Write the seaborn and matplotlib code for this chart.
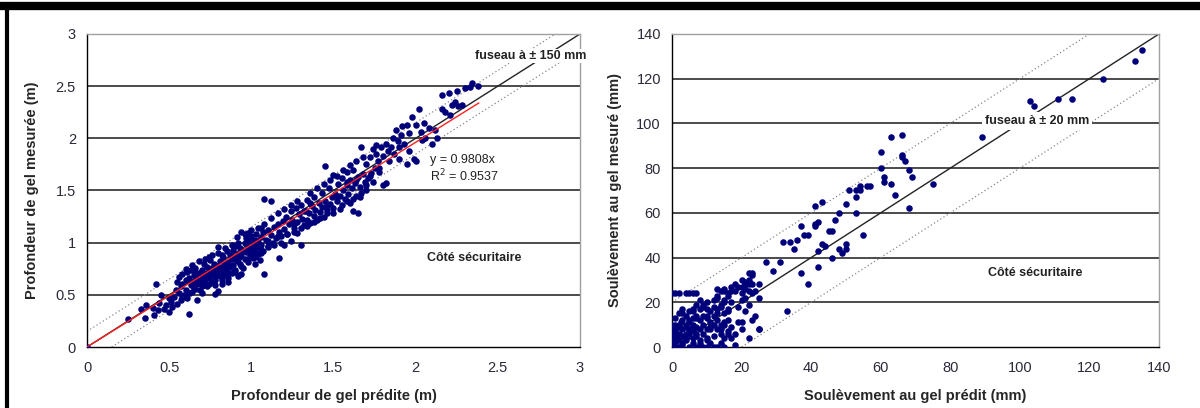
import matplotlib
matplotlib.use('Agg')
import matplotlib.pyplot as plt
import seaborn as sns
import pandas as pd
from matplotlib.lines import Line2D

# Profondeur de gel (m): predite / mesuree
pred_depth = [0.00, 0.25, 0.33, 0.35, 0.36, 0.40, 0.41, 0.42, 0.43, 0.44, 0.45, 0.47, 0.48, 0.50, 0.50, 0.51,
              0.52, 0.53, 0.54, 0.55, 0.55, 0.56, 0.56, 0.57, 0.57, 0.58, 0.58, 0.59, 0.60, 0.60, 0.61, 0.61,
              0.62, 0.62, 0.63, 0.63, 0.64, 0.64, 0.65, 0.65, 0.66, 0.66, 0.67, 0.67, 0.68, 0.68, 0.69, 0.69,
              0.70, 0.70, 0.71, 0.71, 0.72, 0.72, 0.73, 0.73, 0.74, 0.74, 0.75, 0.75, 0.76, 0.76, 0.77, 0.77,
              0.78, 0.78, 0.79, 0.79, 0.80, 0.80, 0.80, 0.81, 0.81, 0.82, 0.82, 0.83, 0.83, 0.84, 0.84, 0.85,
              0.85, 0.86, 0.86, 0.87, 0.87, 0.88, 0.88, 0.89, 0.89, 0.90, 0.90, 0.91, 0.91, 0.92, 0.92, 0.93,
              0.93, 0.94, 0.94, 0.95, 0.95, 0.96, 0.96, 0.97, 0.97, 0.98, 0.98, 0.99, 0.99, 1.00, 1.00, 1.01,
              1.01, 1.02, 1.02, 1.03, 1.03, 1.04, 1.04, 1.05, 1.05, 1.06, 1.06, 1.07, 1.07, 1.08, 1.08, 1.09,
              1.10, 1.10, 1.12, 1.12, 1.13, 1.14, 1.15, 1.16, 1.17, 1.17, 1.18, 1.19, 1.20, 1.20, 1.21, 1.22,
              1.23, 1.24, 1.24, 1.25, 1.26, 1.27, 1.28, 1.28, 1.29, 1.30, 1.30, 1.31, 1.32, 1.33, 1.34, 1.34,
              1.35, 1.36, 1.37, 1.38, 1.38, 1.39, 1.40, 1.41, 1.42, 1.43, 1.43, 1.44, 1.45, 1.45, 1.46, 1.47,
              1.48, 1.49, 1.50, 1.50, 1.51, 1.52, 1.53, 1.54, 1.55, 1.55, 1.56, 1.57, 1.58, 1.58, 1.59, 1.60,
              1.60, 1.61, 1.62, 1.62, 1.63, 1.64, 1.65, 1.65, 1.66, 1.67, 1.67, 1.68, 1.69, 1.70, 1.71, 1.72,
              1.73, 1.74, 1.75, 1.76, 1.77, 1.78, 1.79, 1.80, 1.80, 1.82, 1.82, 1.83, 1.85, 1.86, 1.87, 1.88,
              1.89, 1.90, 1.91, 1.92, 1.93, 1.95, 1.95, 1.96, 1.98, 1.99, 2.00, 2.00, 2.02, 2.03, 2.05, 2.06,
              2.08, 2.10, 2.13, 2.16, 2.16, 2.18, 2.20, 2.21, 2.22, 2.24, 2.25, 2.26, 2.28, 2.30, 2.33, 2.34,
              2.38,
              0.58, 0.60, 0.62, 0.64, 0.66, 0.68, 0.70, 0.72, 0.74, 0.76,
              0.78, 0.80, 0.82, 0.84, 0.86, 0.88, 0.90, 0.92, 0.94, 0.96,
              0.98, 1.00, 1.02, 1.04, 1.06, 1.08, 1.10, 1.12, 1.14, 1.16,
              1.18, 1.20, 1.22, 1.24, 1.26, 1.28, 1.30, 1.32, 1.34, 1.36,
              1.38, 1.40, 1.42, 1.44, 1.46, 1.48, 1.50, 1.52, 1.54, 1.56,
              1.58, 1.60, 1.62, 1.64, 1.66, 1.68, 1.70, 1.72, 1.74, 1.76,
              0.74, 0.78, 0.82, 0.86, 0.90, 0.94, 0.98, 1.02, 1.06, 1.10,
              0.66, 0.70, 0.76, 0.84, 0.92, 1.00, 1.16, 1.26, 1.36, 1.46,
              1.52, 1.58, 1.64, 1.70, 1.78, 1.84, 1.90, 1.96, 2.04, 2.12]
meas_depth = [0.00, 0.27, 0.36, 0.28, 0.40, 0.37, 0.31, 0.60, 0.35, 0.42, 0.50, 0.36, 0.40, 0.34, 0.47, 0.43,
              0.38, 0.48, 0.55, 0.41, 0.62, 0.52, 0.67, 0.58, 0.45, 0.70, 0.60, 0.50, 0.64, 0.55, 0.72, 0.47,
              0.32, 0.66, 0.59, 0.74, 0.62, 0.53, 0.69, 0.57, 0.76, 0.64, 0.45, 0.60, 0.71, 0.67, 0.55, 0.63,
              0.74, 0.68, 0.80, 0.61, 0.70, 0.65, 0.77, 0.58, 0.72, 0.66, 0.83, 0.69, 0.62, 0.76, 0.73, 0.80,
              0.51, 0.67, 0.78, 0.71, 0.96, 0.54, 0.74, 0.82, 0.68, 0.77, 0.64, 0.86, 0.72, 0.79, 0.69, 0.92,
              0.75, 0.81, 0.66, 0.88, 0.77, 0.71, 0.84, 0.93, 0.79, 0.86, 0.74, 1.05, 0.82, 0.89, 0.68, 0.95,
              0.80, 1.10, 0.87, 0.92, 0.76, 1.00, 0.84, 0.91, 1.04, 0.81, 0.96, 1.02, 0.88, 0.94, 1.06, 0.85,
              0.99, 1.03, 0.91, 0.96, 1.08, 0.89, 1.01, 0.95, 0.83, 1.05, 0.98, 1.10, 0.92, 1.42, 0.70, 1.03,
              1.12, 0.97, 1.40, 1.07, 1.00, 1.15, 1.04, 1.18, 0.85, 1.10, 1.06, 1.21, 1.13, 0.98, 1.25, 1.08,
              1.18, 1.30, 1.02, 1.22, 1.14, 1.33, 1.20, 1.09, 1.27, 0.98, 1.36, 1.23, 1.17, 1.30, 1.41, 1.22,
              1.28, 1.19, 1.35, 1.26, 1.44, 1.31, 1.22, 1.38, 1.29, 1.48, 1.34, 1.25, 1.73, 1.40, 1.31, 1.52,
              1.37, 1.44, 1.65, 1.33, 1.47, 1.40, 1.56, 1.45, 1.36, 1.62, 1.50, 1.42, 1.68, 1.55, 1.47, 1.60,
              1.38, 1.52, 1.30, 1.70, 1.57, 1.45, 1.28, 1.63, 1.53, 1.92, 1.48, 1.66, 1.58, 1.75, 1.62, 1.82,
              1.67, 1.90, 1.72, 1.85, 1.78, 1.68, 1.92, 1.55, 1.83, 1.57, 1.95, 1.88, 1.92, 2.00, 1.85, 2.08,
              1.97, 1.80, 2.03, 2.12, 1.95, 1.75, 2.13, 2.05, 2.20, 1.80, 2.13, 1.78, 2.28, 2.06, 2.15, 2.00,
              2.10, 1.95, 2.00, 2.28, 2.42, 2.25, 2.43, 2.22, 2.32, 2.35, 2.45, 2.31, 2.32, 2.48, 2.49, 2.53,
              2.50,
              0.48, 0.75, 0.52, 0.79, 0.56, 0.82, 0.58, 0.84, 0.60, 0.88,
              0.64, 0.90, 0.60, 0.95, 0.70, 0.98, 0.72, 1.00, 0.78, 1.08,
              0.84, 1.12, 0.86, 1.14, 0.90, 1.18, 0.96, 1.24, 0.98, 1.28,
              1.00, 1.32, 1.08, 1.36, 1.10, 1.40, 1.14, 1.30, 1.16, 1.48,
              1.20, 1.52, 1.24, 1.56, 1.28, 1.60, 1.28, 1.64, 1.32, 1.70,
              1.40, 1.74, 1.42, 1.78, 1.44, 1.82, 1.50, 1.64, 1.58, 1.94,
              0.86, 0.59, 0.88, 0.62, 0.97, 0.70, 1.09, 0.80, 1.14, 1.02,
              0.72, 0.52, 0.70, 0.80, 0.84, 0.90, 1.06, 1.18, 1.38, 1.36,
              1.45, 1.58, 1.60, 1.55, 1.72, 1.78, 1.92, 1.88, 1.98, 2.08]

# Soulevement au gel (mm): (predit, mesure)
heave_points = [
    (135, 133), (133, 128), (124, 120), (115, 111), (111, 111), (104, 108), (103, 110), (89, 94), (75, 73), (69, 76),
    (68, 79), (68, 62), (67, 83), (66, 86), (66, 85), (66, 95), (64, 68), (63, 94), (63, 73), (61, 76),
    (61, 74), (60, 87), (60, 80), (57, 72), (56, 72), (55, 50), (54, 72), (54, 70), (53, 70), (53, 67),
    (53, 60), (51, 70), (50, 64), (50, 46), (50, 44), (49, 42), (48, 60), (48, 44), (47, 57), (46, 52),
    (46, 40), (45, 52), (44, 45), (43, 46), (43, 65), (42, 56), (42, 43), (42, 36), (41, 63), (41, 55),
    (41, 54), (39, 50), (38, 50), (39, 28), (37, 54), (37, 33), (36, 48), (35, 44), (34, 47), (33, 16),
    (32, 47), (31, 38), (29, 34), (27, 38), (25, 28), (25, 22), (25, 8), (23, 33), (23, 32), (22, 33),
    (22, 30), (22, 25), (22, 4), (21, 28), (21, 22), (20, 30), (20, 27), (20, 21), (20, 11), (20, 8),
    (19, 27), (19, 18), (18, 25), (18, 1), (17, 20), (17, 27), (16, 23), (16, 16), (16, 6), (15, 10),
    (15, 20), (15, 26), (15, 0), (14, 18), (14, 25), (14, 2), (14, 8), (13, 22), (13, 15), (13, 12),
    (13, 0), (12, 18), (12, 10), (12, 5), (11, 16), (11, 8), (10, 14), (10, 20), (10, 3), (10, 0),
    (9, 10), (9, 18), (9, 6), (9, 0), (8, 12), (8, 17), (8, 8), (8, 2), (7, 13), (7, 6),
    (7, 19), (7, 24), (6, 9), (6, 16), (6, 24), (6, 4), (5, 11), (5, 24), (5, 7), (5, 0),
    (4, 14), (4, 24), (4, 5), (4, 9), (3, 8), (3, 12), (3, 15), (3, 2), (2, 24), (2, 6),
    (2, 10), (2, 0), (1, 24), (1, 13), (1, 4), (1, 8), (1, 0), (0, 24), (0, 10), (0, 5),
    (0, 2), (0, 0), (0.5, 7), (0.5, 1), (0, 1), (0, 3), (0, 6), (0, 8), (0.5, 4), (0.5, 9),
    (1, 2), (1, 5), (1, 7), (1, 10), (1.5, 3), (2, 4), (2, 9), (2, 15), (2.5, 11), (3, 1),
    (3, 5), (3, 17), (4, 3), (4, 6), (4, 10), (5, 5), (5, 8), (5, 12), (5, 16), (6, 2),
    (6, 7), (6, 10), (6, 13), (6, 17), (7, 0), (7, 5), (7, 9), (7, 14), (8, 0), (8, 3),
    (8, 21), (9, 14), (9, 19), (10, 4), (10, 8), (10, 13), (10, 17), (11, 2), (11, 9), (11, 11),
    (12, 0), (12, 14), (12, 21), (13, 8), (13, 17), (13, 23), (13, 26), (14, 6), (14, 10), (14, 19),
    (15, 4), (15, 11), (15, 15), (15, 21), (15, 25), (16, 7), (16, 12), (16, 17), (16, 24), (17, 4),
    (17, 9), (17, 25), (18, 6), (18, 28), (19, 11), (20, 24), (21, 16), (21, 26), (21, 29), (22, 19),
    (22, 28), (23, 12), (23, 24), (23, 28), (24, 14), (24, 25), (25, 8),
]
pred_heave = [p[0] for p in heave_points]
meas_heave = [p[1] for p in heave_points]

depth_ticks = [0, 0.5, 1, 1.5, 2, 2.5, 3]
heave_ticks = [0, 20, 40, 60, 80, 100, 120, 140]

sns.set_style('white')
plt.rcParams['font.family'] = ['Liberation Sans', 'DejaVu Sans']

fig = plt.figure(figsize=(12, 4.08), dpi=100)
ax1 = fig.add_axes([0.0725, 0.1495, 0.4108, 0.7672])
ax2 = fig.add_axes([0.56, 0.1495, 0.4058, 0.7672])

navy = '#00007a'


def style_axes(ax, ticks):
    ax.set_xlim(ticks[0], ticks[-1])
    ax.set_ylim(ticks[0], ticks[-1])
    ax.set_xticks(ticks)
    ax.set_yticks(ticks)
    ax.set_xticklabels([f'{t:g}' for t in ticks])
    ax.set_yticklabels([f'{t:g}' for t in ticks])
    for t in ticks[1:-1]:
        ax.axhline(t, color='#1a1a1a', lw=1.1, zorder=1)
    ax.spines['left'].set_color('black')
    ax.spines['bottom'].set_color('black')
    ax.spines['top'].set_color('#a0a0a0')
    ax.spines['right'].set_color('#a0a0a0')
    for s in ax.spines.values():
        s.set_linewidth(1.0)
    ax.tick_params(axis='both', direction='out', length=4, width=1, color='black',
                   labelsize=10.5, labelcolor='#2a2a3a', pad=4)
    ax.tick_params(axis='x', pad=6)


# --- gauche : profondeur de gel
style_axes(ax1, depth_ticks)
ax1.plot([0, 3], [0, 3], color='#222222', lw=1.0, zorder=2)
ax1.plot([0, 2.85], [0.15, 3], color='#888888', lw=0.9, ls=(0, (1, 2)), zorder=2)
ax1.plot([0.15, 3], [0, 2.85], color='#888888', lw=0.9, ls=(0, (1, 2)), zorder=2)
df1 = pd.DataFrame({'pred': pred_depth, 'meas': meas_depth})
sns.scatterplot(ax=ax1, data=df1, x='pred', y='meas', color=navy, marker='o', s=22,
                linewidth=0, zorder=3)
ax1.plot([0, 2.385], [0, 0.9808 * 2.385], color='#ff2020', lw=1.0, zorder=4)
ax1.text(2.70, 2.79, 'fuseau à ± 150 mm', ha='center', va='center', fontsize=9,
         fontweight='bold', color='#222222', zorder=5,
         bbox=dict(facecolor='white', edgecolor='none', pad=1))
ax1.text(2.09, 1.79, 'y = 0.9808x', ha='left', va='center', fontsize=9, color='#222222', zorder=5)
ax1.text(2.09, 1.64, 'R$^2$ = 0.9537', ha='left', va='center', fontsize=9, color='#222222', zorder=5)
ax1.text(2.355, 0.85, 'Côté sécuritaire', ha='center', va='center', fontsize=9,
         fontweight='bold', color='#222222', zorder=5)
ax1.set_xlabel('Profondeur de gel prédite (m)', fontsize=10.5, fontweight='bold', labelpad=10)
ax1.set_ylabel('Profondeur de gel mesurée (m)', fontsize=10.5, fontweight='bold', labelpad=12)

# --- droite : soulevement au gel
style_axes(ax2, heave_ticks)
ax2.plot([0, 140], [0, 140], color='#222222', lw=1.0, zorder=2)
ax2.plot([0, 120], [20, 140], color='#888888', lw=0.9, ls=(0, (1, 2)), zorder=2)
ax2.plot([20, 140], [0, 120], color='#888888', lw=0.9, ls=(0, (1, 2)), zorder=2)
df2 = pd.DataFrame({'pred': pred_heave, 'meas': meas_heave})
sns.scatterplot(ax=ax2, data=df2, x='pred', y='meas', color=navy, marker='o', s=22,
                linewidth=0, zorder=3)
ax2.text(105, 101, 'fuseau à ± 20 mm', ha='center', va='center', fontsize=9,
         fontweight='bold', color='#222222', zorder=5,
         bbox=dict(facecolor='white', edgecolor='none', pad=2))
ax2.text(104.5, 33, 'Côté sécuritaire', ha='center', va='center', fontsize=9,
         fontweight='bold', color='#222222', zorder=5)
ax2.set_xlabel('Soulèvement au gel prédit (mm)', fontsize=10.5, fontweight='bold', labelpad=10)
ax2.set_ylabel('Soulèvement au gel mesuré (mm)', fontsize=10.5, fontweight='bold', labelpad=10)

# cadre noir (haut et gauche)
fig.add_artist(Line2D([0, 1], [0.985, 0.985], transform=fig.transFigure, color='black', lw=6))
fig.add_artist(Line2D([0.006, 0.006], [0, 0.99], transform=fig.transFigure, color='black', lw=3))

fig.savefig('out.png', dpi=100)
